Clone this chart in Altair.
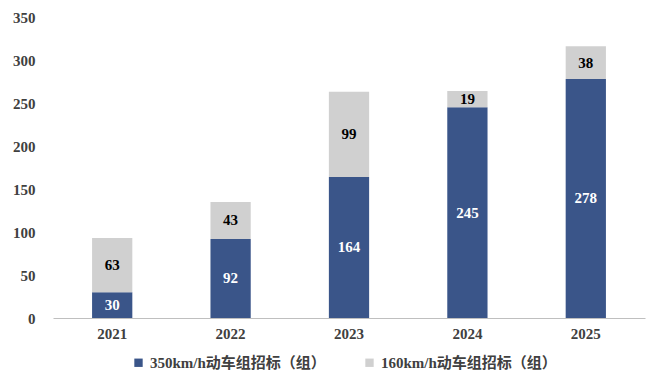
import altair as alt
import pandas as pd

years = ["2021", "2022", "2023", "2024", "2025"]
s350 = [30, 92, 164, 245, 278]
s160 = [63, 43, 99, 19, 38]
series = ["350km/h动车组招标（组）", "160km/h动车组招标（组）"]
colors = ["#3A5589", "#D0D0D0"]
label_colors = ["#FFFFFF", "#000000"]

rows = []
for i, y in enumerate(years):
    base = 0
    for k, vals in enumerate([s350, s160]):
        v = vals[i]
        rows.append({"year": y, "series": series[k], "value": v, "order": k,
                     "lo": base, "hi": base + v, "mid": base + v / 2,
                     "lc": label_colors[k]})
        base += v
df = pd.DataFrame(rows)

FONT = "Liberation Serif, Noto Sans CJK SC"

x = alt.X("year:N", sort=years, title=None,
          scale=alt.Scale(paddingInner=0.66, paddingOuter=0.33),
          axis=alt.Axis(labelAngle=0, labelFont=FONT, labelFontSize=15, labelFontWeight="bold",
                        labelColor="#404040", ticks=False, domainColor="#BFBFBF", labelPadding=8))

bars = alt.Chart(df).mark_bar().encode(
    x=x,
    y=alt.Y("lo:Q", title=None, scale=alt.Scale(domain=[0, 350]),
            axis=alt.Axis(values=[0, 50, 100, 150, 200, 250, 300, 350], grid=False, domain=False,
                          ticks=False, labelFont=FONT, labelFontSize=15, labelFontWeight="bold",
                          labelColor="#404040", labelPadding=18)),
    y2="hi:Q",
    color=alt.Color("series:N", sort=series,
                    scale=alt.Scale(domain=series, range=colors),
                    legend=alt.Legend(title=None, orient="none", direction="horizontal",
                                      legendX=78, legendY=338, symbolType="square",
                                      symbolSize=70, symbolStrokeWidth=0,
                                      labelFont=FONT, labelFontSize=15, labelFontWeight="bold",
                                      labelColor="#404040", columnPadding=36, labelLimit=300)),
)

labels = alt.Chart(df).mark_text(font=FONT, fontSize=15, fontWeight="bold").encode(
    x=alt.X("year:N", sort=years),
    y=alt.Y("mid:Q"),
    text="value:Q",
    color=alt.Color("lc:N", scale=None),
)

chart = (bars + labels).properties(
    width=592, height=301,
    autosize=alt.AutoSizeParams(type="none"),
    padding={"left": 53, "top": 17, "right": 6, "bottom": 56},
).configure_view(stroke=None)

chart.save("out.html", embed_options={"renderer": "svg", "actions": False})
